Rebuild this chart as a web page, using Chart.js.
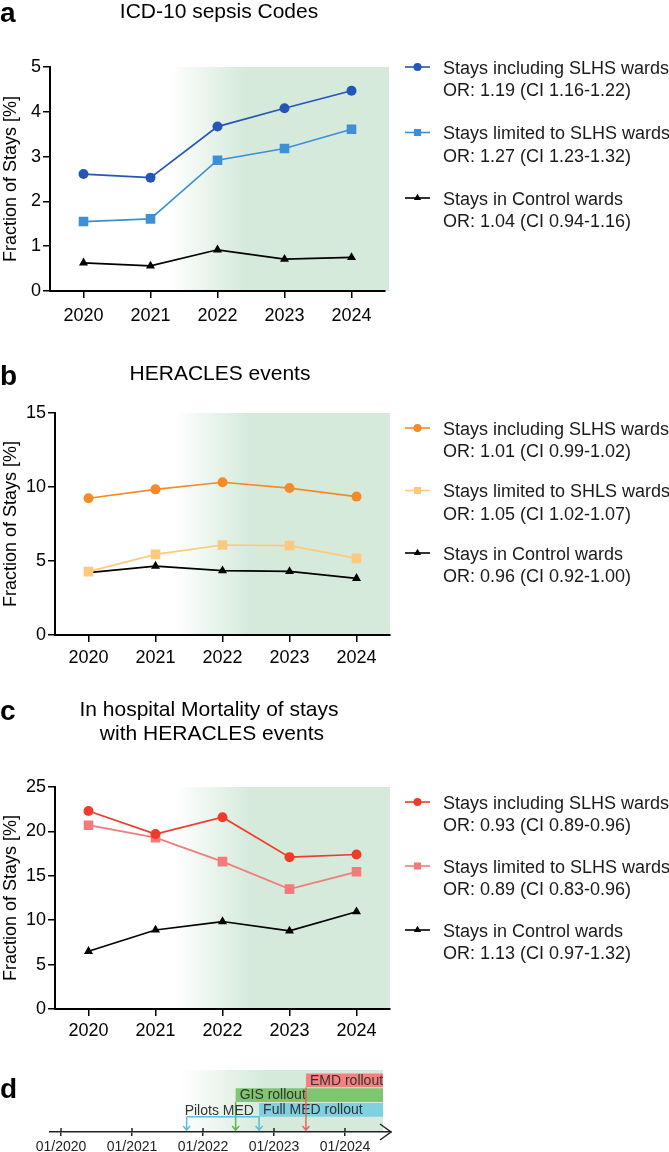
<!DOCTYPE html>
<html>
<head>
<meta charset="utf-8">
<script src="https://cdn.jsdelivr.net/npm/chart.js@4.4.1/dist/chart.umd.min.js"></script>
<style>
  body { margin: 0; background: #fff; }
  #fig { position: relative; width: 669px; height: 1152px; }
  #fig canvas { position: absolute; left: 0; }
</style>
</head>
<body>
<div id="fig">
  <canvas id="chartA" width="669" height="330" style="top:0"></canvas>
  <canvas id="chartB" width="669" height="340" style="top:330px"></canvas>
  <canvas id="chartC" width="669" height="380" style="top:670px"></canvas>
  <canvas id="chartD" width="669" height="102" style="top:1050px"></canvas>
</div>
<script>
// Data
const years = ['2020', '2021', '2022', '2023', '2024'];

// a - ICD-10 sepsis codes
const sepsisIncl = [2.61, 2.53, 3.67, 4.08, 4.47];
const sepsisLim = [1.55, 1.61, 2.92, 3.18, 3.61];
const sepsisCtrl = [0.63, 0.56, 0.92, 0.71, 0.75];
const sepsisNames = ['Stays including SLHS wards', 'Stays limited to SLHS wards', 'Stays in Control wards'];
const sepsisOR = ['OR: 1.19 (CI 1.16-1.22)', 'OR: 1.27 (CI 1.23-1.32)', 'OR: 1.04 (CI 0.94-1.16)'];

// b - HERACLES events
const heraclesIncl = [9.24, 9.84, 10.32, 9.93, 9.35];
const heraclesLim = [4.28, 5.45, 6.08, 6.04, 5.18];
const heraclesCtrl = [4.21, 4.66, 4.35, 4.30, 3.83];
const heraclesNames = ['Stays including SLHS wards', 'Stays limited to SHLS wards', 'Stays in Control wards'];
const heraclesOR = ['OR: 1.01 (CI 0.99-1.02)', 'OR: 1.05 (CI 1.02-1.07)', 'OR: 0.96 (CI 0.92-1.00)'];

// c - in hospital mortality
const mortIncl = [22.3, 19.7, 21.6, 17.1, 17.4];
const mortLim = [20.7, 19.3, 16.6, 13.5, 15.45];
const mortCtrl = [6.5, 8.9, 9.85, 8.8, 10.95];
const mortNames = ['Stays including SLHS wards', 'Stays limited to SLHS wards', 'Stays in Control wards'];
const mortOR = ['OR: 0.93 (CI 0.89-0.96)', 'OR: 0.89 (CI 0.83-0.96)', 'OR: 1.13 (CI 0.97-1.32)'];

// d - timeline (decimal years)
const tickYears = [2020, 2021, 2022, 2023, 2024];
const phaseNames = ['EMD rollout', 'GIS rollout', 'Full MED rollout'];
const phaseStart = [2023.45, 2022.46, 2022.79];
const phaseEnd = [2024.535, 2024.535, 2024.535];
const pilotName = 'Pilots MED';
const pilotDate = 2021.77;

const FONT = '"Liberation Sans", Arial, Helvetica, sans-serif';
Chart.defaults.font.family = FONT;
Chart.defaults.color = '#000';

const SHADE = '213,234,219';
const pointStyles = ['circle', 'rect', 'triangle'];
const pointRadii = [5, 6.8, 5.2];
const legendRadii = [4, 5, 4.2];

function drawMarker(ctx, style, x, y, r, color) {
  ctx.fillStyle = color;
  ctx.beginPath();
  if (style === 'circle') {
    ctx.arc(x, y, r, 0, Math.PI * 2);
  } else if (style === 'rect') {
    const s = r * Math.SQRT1_2;
    ctx.rect(x - s, y - s, 2 * s, 2 * s);
  } else {
    ctx.moveTo(x, y - r);
    ctx.lineTo(x + r * 0.866, y + r / 2);
    ctx.lineTo(x - r * 0.866, y + r / 2);
    ctx.closePath();
  }
  ctx.fill();
}

// green gradient behind the data
const shade = {
  id: 'shade',
  beforeDraw(chart, args, opts) {
    const { ctx, chartArea } = chart;
    const x = chart.scales.x;
    const x0 = x.getPixelForValue(opts.from);
    const x1 = x.getPixelForValue(opts.to);
    const xr = opts.end !== undefined ? x.getPixelForValue(opts.end) : chartArea.right + (opts.extra || 0);
    const top = chartArea.top - (opts.above || 0);
    const g = ctx.createLinearGradient(x0, 0, x1, 0);
    g.addColorStop(0, 'rgba(' + SHADE + ',0)');
    g.addColorStop(1, 'rgba(' + SHADE + ',1)');
    ctx.save();
    ctx.fillStyle = g;
    ctx.fillRect(x0, top, xr - x0, chartArea.bottom - top);
    ctx.restore();
  }
};

// panel letter and title
const panelText = {
  id: 'panelText',
  afterDraw(chart, args, opts) {
    const ctx = chart.ctx;
    ctx.save();
    ctx.fillStyle = '#000';
    ctx.textBaseline = 'alphabetic';
    ctx.font = 'bold 28px ' + FONT;
    ctx.textAlign = 'left';
    ctx.fillText(opts.letter, 0, opts.letterY);
    if (opts.lines) {
      ctx.font = '21px ' + FONT;
      ctx.textAlign = 'center';
      opts.lines.forEach((t, i) => ctx.fillText(t, opts.titleX, opts.titleY + i * 24));
    }
    ctx.restore();
  }
};

// legend to the right with OR line
const sideLegend = {
  id: 'sideLegend',
  afterDraw(chart, args, opts) {
    const ctx = chart.ctx;
    ctx.save();
    chart.data.datasets.forEach((ds, i) => {
      const y = opts.y0 + i * opts.step;
      ctx.strokeStyle = ds.borderColor;
      ctx.lineWidth = 1.6;
      ctx.beginPath();
      ctx.moveTo(405, y);
      ctx.lineTo(430, y);
      ctx.stroke();
      drawMarker(ctx, ds.pointStyle, 417.5, y, legendRadii[i], ds.borderColor);
      ctx.fillStyle = '#1a1a1a';
      ctx.font = '18px ' + FONT;
      ctx.textAlign = 'left';
      ctx.textBaseline = 'alphabetic';
      ctx.fillText(ds.label, 443, y + 6.5);
      ctx.fillText(opts.notes[i], 443, y + 29);
    });
    ctx.restore();
  }
};

function lineChart(id, o) {
  const canvas = document.getElementById(id);
  const W = canvas.width, H = canvas.height;
  return new Chart(canvas, {
    type: 'line',
    data: {
      labels: years,
      datasets: o.series.map((s, i) => ({
        label: o.names[i],
        data: s,
        borderColor: o.colors[i],
        backgroundColor: o.colors[i],
        pointStyle: pointStyles[i],
        pointRadius: pointRadii[i],
        pointBorderWidth: 0,
        borderWidth: 1.7,
        tension: 0
      }))
    },
    options: {
      responsive: false,
      animation: false,
      events: [],
      layout: { padding: { left: 0, top: o.area.top, right: W - o.area.right, bottom: 0 } },
      plugins: {
        legend: { display: false },
        tooltip: { enabled: false },
        shade: { from: 1.28, to: 2.4, extra: o.extra || 0 },
        panelText: o.text,
        sideLegend: { y0: o.legendY, step: o.legendStep, notes: o.notes }
      },
      scales: {
        x: {
          offset: true,
          afterFit: s => { s.height = H - o.area.bottom; },
          grid: { offset: false, drawOnChartArea: false, tickLength: 7, color: '#000', lineWidth: 1.5 },
          border: { color: '#000', width: 2 },
          ticks: { font: { size: 18 }, color: '#000', padding: o.tickPad, maxRotation: 0 }
        },
        y: {
          min: 0,
          max: o.yMax,
          afterFit: s => { s.width = o.area.left; },
          grid: { drawOnChartArea: false, tickLength: 7, color: '#000', lineWidth: 1.5 },
          border: { color: '#000', width: 2 },
          ticks: { stepSize: o.yStep, font: { size: 18 }, color: '#000', padding: 2 },
          title: { display: true, text: 'Fraction of Stays [%]', font: { size: 18 }, color: '#000', padding: 0 }
        }
      }
    },
    plugins: [shade, panelText, sideLegend]
  });
}

lineChart('chartA', {
  series: [sepsisIncl, sepsisLim, sepsisCtrl],
  names: sepsisNames, notes: sepsisOR,
  colors: ['#2456b8', '#3d8fd6', '#000000'],
  area: { left: 50, right: 385, top: 67, bottom: 291 },
  extra: 4, tickPad: 7,
  yMax: 5, yStep: 1,
  legendY: 67, legendStep: 65.5,
  text: { letter: 'a', letterY: 22, lines: ['ICD-10 sepsis Codes'], titleX: 219, titleY: 18 }
});

lineChart('chartB', {
  series: [heraclesIncl, heraclesLim, heraclesCtrl],
  names: heraclesNames, notes: heraclesOR,
  colors: ['#f58a28', '#fdc97c', '#000000'],
  area: { left: 55, right: 390, top: 83, bottom: 305 },
  tickPad: 5,
  yMax: 15, yStep: 5,
  legendY: 98, legendStep: 62.5,
  text: { letter: 'b', letterY: 55, lines: ['HERACLES events'], titleX: 220, titleY: 49.5 }
});

lineChart('chartC', {
  series: [mortIncl, mortLim, mortCtrl],
  names: mortNames, notes: mortOR,
  colors: ['#ee3b2a', '#f37b7b', '#000000'],
  area: { left: 55, right: 390, top: 117, bottom: 339 },
  tickPad: 4,
  yMax: 25, yStep: 5,
  legendY: 132, legendStep: 64,
  text: { letter: 'c', letterY: 50, lines: ['In hospital Mortality of stays', ' with HERACLES events'], titleX: 209, titleY: 45.5 }
});

// d - timeline drawn as floating horizontal bars
const phaseColors = ['#f58080', '#80c56f', '#7fd0e1'];
const markColors = ['#ef6262', '#62b54f', '#5bbfda'];

const timeline = {
  id: 'timeline',
  afterDraw(chart) {
    const { ctx, chartArea } = chart;
    const x = chart.scales.x;
    const axisY = chartArea.bottom;
    const bars = chart.getDatasetMeta(0).data;
    ctx.save();

    // upper half of the tick marks + arrow head
    ctx.strokeStyle = '#222';
    ctx.lineWidth = 1.5;
    tickYears.forEach(v => {
      const px = x.getPixelForValue(v);
      ctx.beginPath(); ctx.moveTo(px, axisY - 4); ctx.lineTo(px, axisY); ctx.stroke();
    });
    ctx.beginPath();
    ctx.moveTo(chartArea.right - 11, axisY - 8);
    ctx.lineTo(chartArea.right, axisY);
    ctx.lineTo(chartArea.right - 11, axisY + 8);
    ctx.stroke();

    function arrow(px, y0, color) {
      ctx.strokeStyle = color;
      ctx.lineWidth = 1.5;
      ctx.beginPath();
      ctx.moveTo(px, y0); ctx.lineTo(px, axisY - 2);
      ctx.moveTo(px - 3.5, axisY - 6); ctx.lineTo(px, axisY - 2); ctx.lineTo(px + 3.5, axisY - 6);
      ctx.stroke();
    }

    // phase labels and start arrows
    ctx.font = '14px ' + FONT;
    ctx.textBaseline = 'middle';
    ctx.textAlign = 'left';
    bars.forEach((b, i) => {
      ctx.fillStyle = '#333';
      ctx.fillText(phaseNames[i], b.base + 4, b.y + 0.5);
    });
    bars.forEach((b, i) => arrow(b.base, b.y + b.height / 2, markColors[i]));

    // pilot label with bracket towards the full rollout
    const pp = x.getPixelForValue(pilotDate);
    const mp = bars[2].base;
    const ly = bars[2].y + bars[2].height / 2;
    ctx.fillStyle = '#333';
    ctx.fillText(pilotName, pp - 2, ly - 5.5);
    ctx.strokeStyle = markColors[2];
    ctx.lineWidth = 1.5;
    ctx.beginPath(); ctx.moveTo(pp, ly); ctx.lineTo(mp, ly); ctx.stroke();
    arrow(pp, ly, markColors[2]);
    ctx.restore();
  }
};

new Chart(document.getElementById('chartD'), {
  type: 'bar',
  data: {
    labels: [...phaseNames, ''],
    datasets: [{
      data: phaseNames.map((n, i) => [phaseStart[i], phaseEnd[i]]),
      backgroundColor: phaseColors,
      borderWidth: 0,
      categoryPercentage: 0.92,
      barPercentage: 1
    }]
  },
  options: {
    indexAxis: 'y',
    responsive: false,
    animation: false,
    events: [],
    layout: { padding: { left: 50, right: 669 - 391, top: 23, bottom: 0 } },
    plugins: {
      legend: { display: false },
      tooltip: { enabled: false },
      shade: { from: 2021.68, to: 2022.87, end: phaseEnd[0], above: 3 },
      panelText: { letter: 'd', letterY: 48 }
    },
    scales: {
      x: {
        type: 'linear',
        min: 2019.845,
        max: 2024.648,
        afterBuildTicks: s => { s.ticks = tickYears.map(v => ({ value: v })); },
        afterFit: s => { s.height = 20; },
        grid: { drawOnChartArea: false, tickLength: 4, color: '#222', lineWidth: 1.5 },
        border: { color: '#222', width: 1.5 },
        ticks: { font: { size: 14 }, color: '#222', padding: 3, maxRotation: 0, callback: v => '01/' + v }
      },
      y: { display: false }
    }
  },
  plugins: [shade, panelText, timeline]
});
</script>
</body>
</html>
